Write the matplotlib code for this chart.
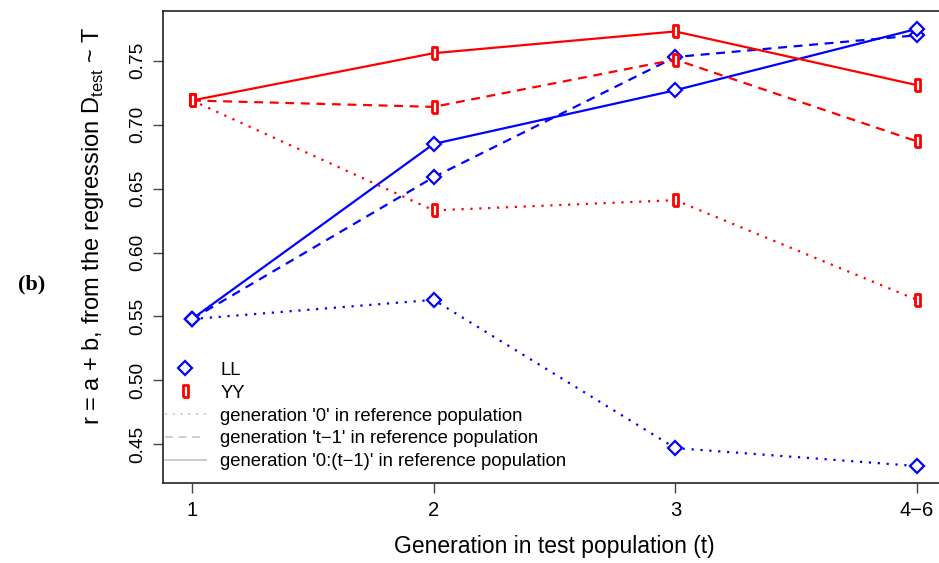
import matplotlib
matplotlib.use("Agg")
import matplotlib.pyplot as plt
from matplotlib.lines import Line2D

plt.rcParams['font.family'] = ['Liberation Sans', 'DejaVu Sans']
plt.rcParams['mathtext.fontset'] = 'custom'
plt.rcParams['mathtext.rm'] = 'Liberation Sans'

# ---- data ----
x_labels = ["1", "2", "3", "4\u22126"]
x_pos = [1, 2, 3, 4]

LL_dotted = [0.548, 0.563, 0.447, 0.433]   # generation '0'
LL_dashed = [0.548, 0.659, 0.753, 0.770]   # generation 't-1'
LL_solid = [0.548, 0.685, 0.727, 0.775]    # generation '0:(t-1)'

YY_dotted = [0.719, 0.633, 0.641, 0.563]
YY_dashed = [0.719, 0.714, 0.751, 0.687]
YY_solid = [0.719, 0.756, 0.773, 0.731]

legend_labels = ["LL", "YY",
                 "generation '0' in reference population",
                 "generation 't\u22121' in reference population",
                 "generation '0:(t\u22121)' in reference population"]

blue = "#0000FF"
red = "#FF0000"
gray = "#CCCCCC"

rect_marker = [(-0.45, -1), (0.45, -1), (0.45, 1), (-0.45, 1), (-0.45, -1)]

fig = plt.figure(figsize=(9.39, 5.63), dpi=100)
ax = fig.add_axes([163/939, 1-483/563, (946-163)/939, (483-11)/563])

dotted = (0, (1, 3))
dashed = (0, (4, 3))

for vals, ls in [(LL_dotted, dotted), (LL_dashed, dashed), (LL_solid, '-')]:
    ax.plot(x_pos, vals, color=blue, linestyle=ls, linewidth=1.6,
            marker='D', markersize=7, markerfacecolor='white',
            markeredgecolor=blue, markeredgewidth=1.6)
for vals, ls in [(YY_dotted, dotted), (YY_dashed, dashed), (YY_solid, '-')]:
    ax.plot(x_pos, vals, color=red, linestyle=ls, linewidth=1.6,
            marker=rect_marker, markersize=8, markerfacecolor='white',
            markeredgecolor=red, markeredgewidth=2.0)

ax.set_xlim(0.88, 4.12)
ax.set_ylim(0.4197, 0.789)
ax.set_xticks(x_pos)
ax.set_xticklabels(x_labels)
yt = [0.45, 0.50, 0.55, 0.60, 0.65, 0.70, 0.75]
ax.set_yticks(yt)
ax.set_yticklabels([f"{v:.2f}" for v in yt], rotation=90, va='center')
ax.tick_params(axis='both', direction='out', length=7, width=1, color='#444444',
               labelsize=13.8, pad=5)
ax.tick_params(axis='x', pad=6, labelsize=14.5)
for s in ax.spines.values():
    s.set_color('#222222')
    s.set_linewidth(1.2)

ax.set_xlabel("Generation in test population (t)", fontsize=16.5, labelpad=11)
ax.set_ylabel(r"r = a + b, from the regression D$_{\mathrm{test}}$ ~ T", fontsize=17)
ax.yaxis.set_label_coords(-0.073, 0.545)

handles = [
    Line2D([], [], linestyle='none', marker='D', markersize=7, markerfacecolor='white',
           markeredgecolor=blue, markeredgewidth=1.6),
    Line2D([], [], linestyle='none', marker=rect_marker, markersize=8, markerfacecolor='white',
           markeredgecolor=red, markeredgewidth=2.0),
    Line2D([], [], color=gray, linestyle=dotted, linewidth=1.4),
    Line2D([], [], color=gray, linestyle=dashed, linewidth=1.4),
    Line2D([], [], color=gray, linestyle='-', linewidth=1.4),
]
ax.legend(handles, legend_labels, loc='upper left', bbox_to_anchor=(0.0026, 0.257),
          frameon=False, fontsize=13.3, handlelength=2.2, handletextpad=0.8,
          labelspacing=0.32, borderaxespad=0, borderpad=0)

fig.text(0.034, 0.495, "(b)", fontsize=16, family='Liberation Serif', fontweight='bold',
         ha='center', va='center')

fig.savefig("out.png", dpi=100)
